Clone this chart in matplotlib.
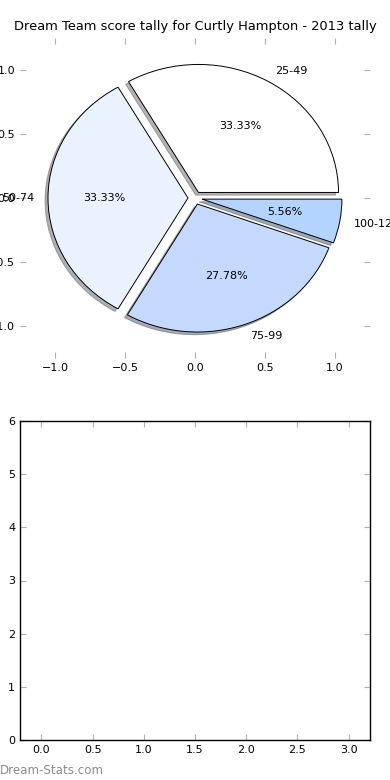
import matplotlib
matplotlib.use("Agg")
import matplotlib.pyplot as plt

labels = ["25-49", "50-74", "75-99", "100-124"]
counts = [6, 6, 5, 1]
colours = ["#ffffff", "#eaf1ff", "#c5d9ff", "#b3d4ff"]
explode = [0.05, 0.05, 0.05, 0.05]
title = "Dream Team score tally for Curtly Hampton - 2013 tally"

pie_ticks = [-1.0, -0.5, 0.0, 0.5, 1.0]
bar_xticks = [0.0, 0.5, 1.0, 1.5, 2.0, 2.5, 3.0]
bar_yticks = [0, 1, 2, 3, 4, 5, 6]

plt.rcParams["font.family"] = "DejaVu Sans"
plt.rcParams["font.size"] = 8

fig = plt.figure(figsize=(3.9, 7.8), dpi=100)

# top: pie
ax1 = fig.add_axes([20 / 390, 1 - 358 / 780, 350 / 390, 320 / 780])
wedges, texts, autotexts = ax1.pie(counts, labels=labels, colors=colours,
                                   explode=explode, autopct="%1.2f%%",
                                   shadow={"ox": -0.015, "oy": -0.015, "shade": 0.6},
                                   startangle=0,
                                   wedgeprops={"edgecolor": "black", "linewidth": 0.7})
ax1.set_aspect("auto")
ax1.set_frame_on(False)
ax1.set_xlim(-1.25, 1.25)
ax1.set_ylim(-1.25, 1.25)
ax1.set_xticks(pie_ticks)
ax1.set_yticks(pie_ticks)
ax1.tick_params(direction="in", length=4, color="#b0b0b0", top=True, right=True, labelsize=8)
ax1.set_title(title, fontsize=9.4)

# bottom: empty axes
ax2 = fig.add_axes([20 / 390, 1 - 740 / 780, 350 / 390, 319 / 780])
ax2.set_xlim(-0.21, 3.21)
ax2.set_ylim(0, 6)
ax2.set_xticks(bar_xticks)
ax2.set_yticks(bar_yticks)
ax2.tick_params(direction="in", length=4, color="#b0b0b0", top=True, right=True, labelsize=8)
for s in ax2.spines.values():
    s.set_linewidth(1.0)

fig.text(0.0, 1 - 770 / 780, "Dream-Stats.com", color="#8c8c8c", fontsize=8.6,
         va="center", ha="left")

fig.savefig("out.png", dpi=100)
